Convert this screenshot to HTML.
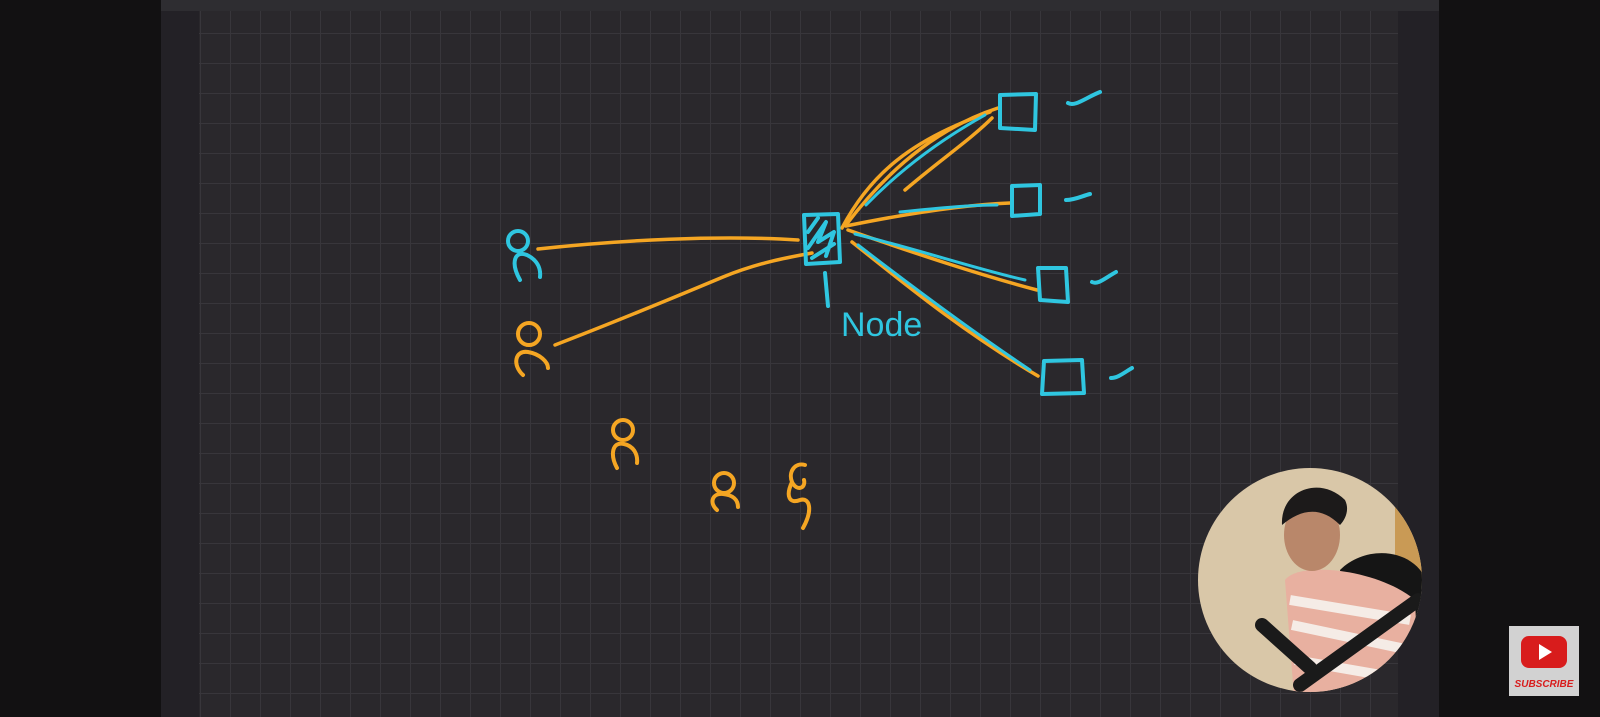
<!DOCTYPE html>
<html><head><style>
html,body{margin:0;padding:0;background:#121112;width:1600px;height:717px;overflow:hidden}
</style></head><body>
<svg width="1600" height="717" viewBox="0 0 1600 717" xmlns="http://www.w3.org/2000/svg">
<defs>
<pattern id="g" x="200" y="3" width="30" height="30" patternUnits="userSpaceOnUse">
<rect width="30" height="30" fill="#2a282c"/>
<path d="M0 0H30M0 0V30" stroke="#38363b" stroke-width="2"/>
</pattern>
<clipPath id="c"><circle cx="1310" cy="580" r="112"/></clipPath>
</defs>
<rect width="1600" height="717" fill="#121112"/>
<rect x="161" y="0" width="1278" height="717" fill="#232126"/>
<rect x="161" y="0" width="1278" height="11" fill="#2e2d31"/>
<rect x="199" y="11" width="1199" height="706" fill="url(#g)"/>
<g fill="none" stroke-linecap="round" stroke-linejoin="round" stroke-width="4">
<g stroke="#2fc6e0"><circle cx="518" cy="241" r="10"/><path d="M520 280 C510 262 515 250 527 255 C537 260 541 268 540 277"/></g>
<g stroke="#f5a623">
<circle cx="529" cy="334" r="11"/><path d="M523 375 C512 365 515 350 528 352 C540 354 548 362 548 368"/>
<circle cx="623" cy="430" r="10"/><path d="M617 468 C610 455 612 441 624 444 C634 446 638 455 637 463"/>
<circle cx="724" cy="483" r="10"/><path d="M717 510 C709 503 712 493 723 494 C733 495 738 500 738 507"/>
<path d="M805 465 C795 462 788 472 792 482 C797 492 806 488 804 480 M792 482 C785 497 790 504 800 500 C810 497 813 510 803 528"/>
</g>
<g stroke="#f5a623" stroke-width="3.5">
<path d="M538 249 C620 240 720 235 798 240"/>
<path d="M555 345 C620 320 680 295 723 277 C760 262 790 257 812 253"/>
<path d="M846 225 C880 180 930 130 998 108"/>
<path d="M842 228 C870 175 910 140 990 112"/>
<path d="M905 190 C940 160 970 140 992 118"/>
<path d="M846 226 C900 215 960 205 1010 203"/>
<path d="M848 230 C920 255 980 275 1037 290"/>
<path d="M852 242 C900 280 960 330 1038 376"/>
</g>
<g stroke="#2fc6e0" stroke-width="3">
<path d="M866 205 C900 170 940 140 985 115"/>
<path d="M900 212 C940 208 970 205 997 205"/>
<path d="M855 234 C920 250 980 270 1025 280"/>
<path d="M858 245 C910 285 970 330 1030 370"/>
</g>
<g stroke="#2fc6e0">
<path d="M804 215 L838 214 L840 262 L806 264 Z"/>
<path d="M808 232 L818 218 M808 248 L826 222 L818 242 L834 232 L826 256 M812 258 L834 244"/>
<path d="M825 273 L828 306"/>
<path d="M1000 95 L1036 94 L1035 130 L1000 128 Z"/>
<path d="M1012 186 L1040 185 L1040 214 L1012 216 Z"/>
<path d="M1038 268 L1066 268 L1068 302 L1040 300 Z"/>
<path d="M1044 361 L1082 360 L1084 393 L1042 394 Z"/>
<path d="M1068 103 C1075 107 1085 98 1100 92"/>
<path d="M1066 200 C1075 200 1082 196 1090 194"/>
<path d="M1092 282 C1098 285 1105 278 1116 272"/>
<path d="M1111 378 C1118 378 1125 372 1132 368"/>
</g>
</g>
<text x="841" y="336" font-family="Liberation Sans, sans-serif" font-size="34" fill="#2fc6e0">Node</text>
<g clip-path="url(#c)">
<rect x="1190" y="460" width="240" height="240" fill="#d9c7a8"/>
<rect x="1395" y="460" width="40" height="120" fill="#c99a55"/>
<path d="M1340 570 C1370 540 1430 550 1430 600 L1430 650 L1350 640 Z" fill="#151515"/>
<path d="M1285 580 C1300 560 1380 570 1415 600 L1420 710 L1295 710 Z" fill="#e8b0a0"/>
<path d="M1290 600 L1410 620 M1292 625 L1410 650 M1295 660 L1410 680" stroke="#f5ece6" stroke-width="10"/>
<ellipse cx="1312" cy="535" rx="28" ry="36" fill="#b9876a"/>
<path d="M1282 525 C1280 490 1320 475 1345 500 C1350 510 1345 520 1340 525 C1320 505 1300 510 1282 525Z" fill="#1c1a1a"/>
<path d="M1262 625 L1310 668 M1300 685 L1418 600" stroke="#1a1a1a" stroke-width="14" stroke-linecap="round"/>
</g>
<rect x="1509" y="626" width="70" height="70" fill="#d2d2d2"/>
<rect x="1521" y="636" width="46" height="32" rx="8" fill="#d81c1c"/>
<path d="M1539 644 L1552 652 L1539 660 Z" fill="#fff"/>
<text x="1544" y="687" text-anchor="middle" font-family="Liberation Sans, sans-serif" font-size="10" font-weight="bold" font-style="italic" fill="#d81c1c">SUBSCRIBE</text>
</svg>
</body></html>
